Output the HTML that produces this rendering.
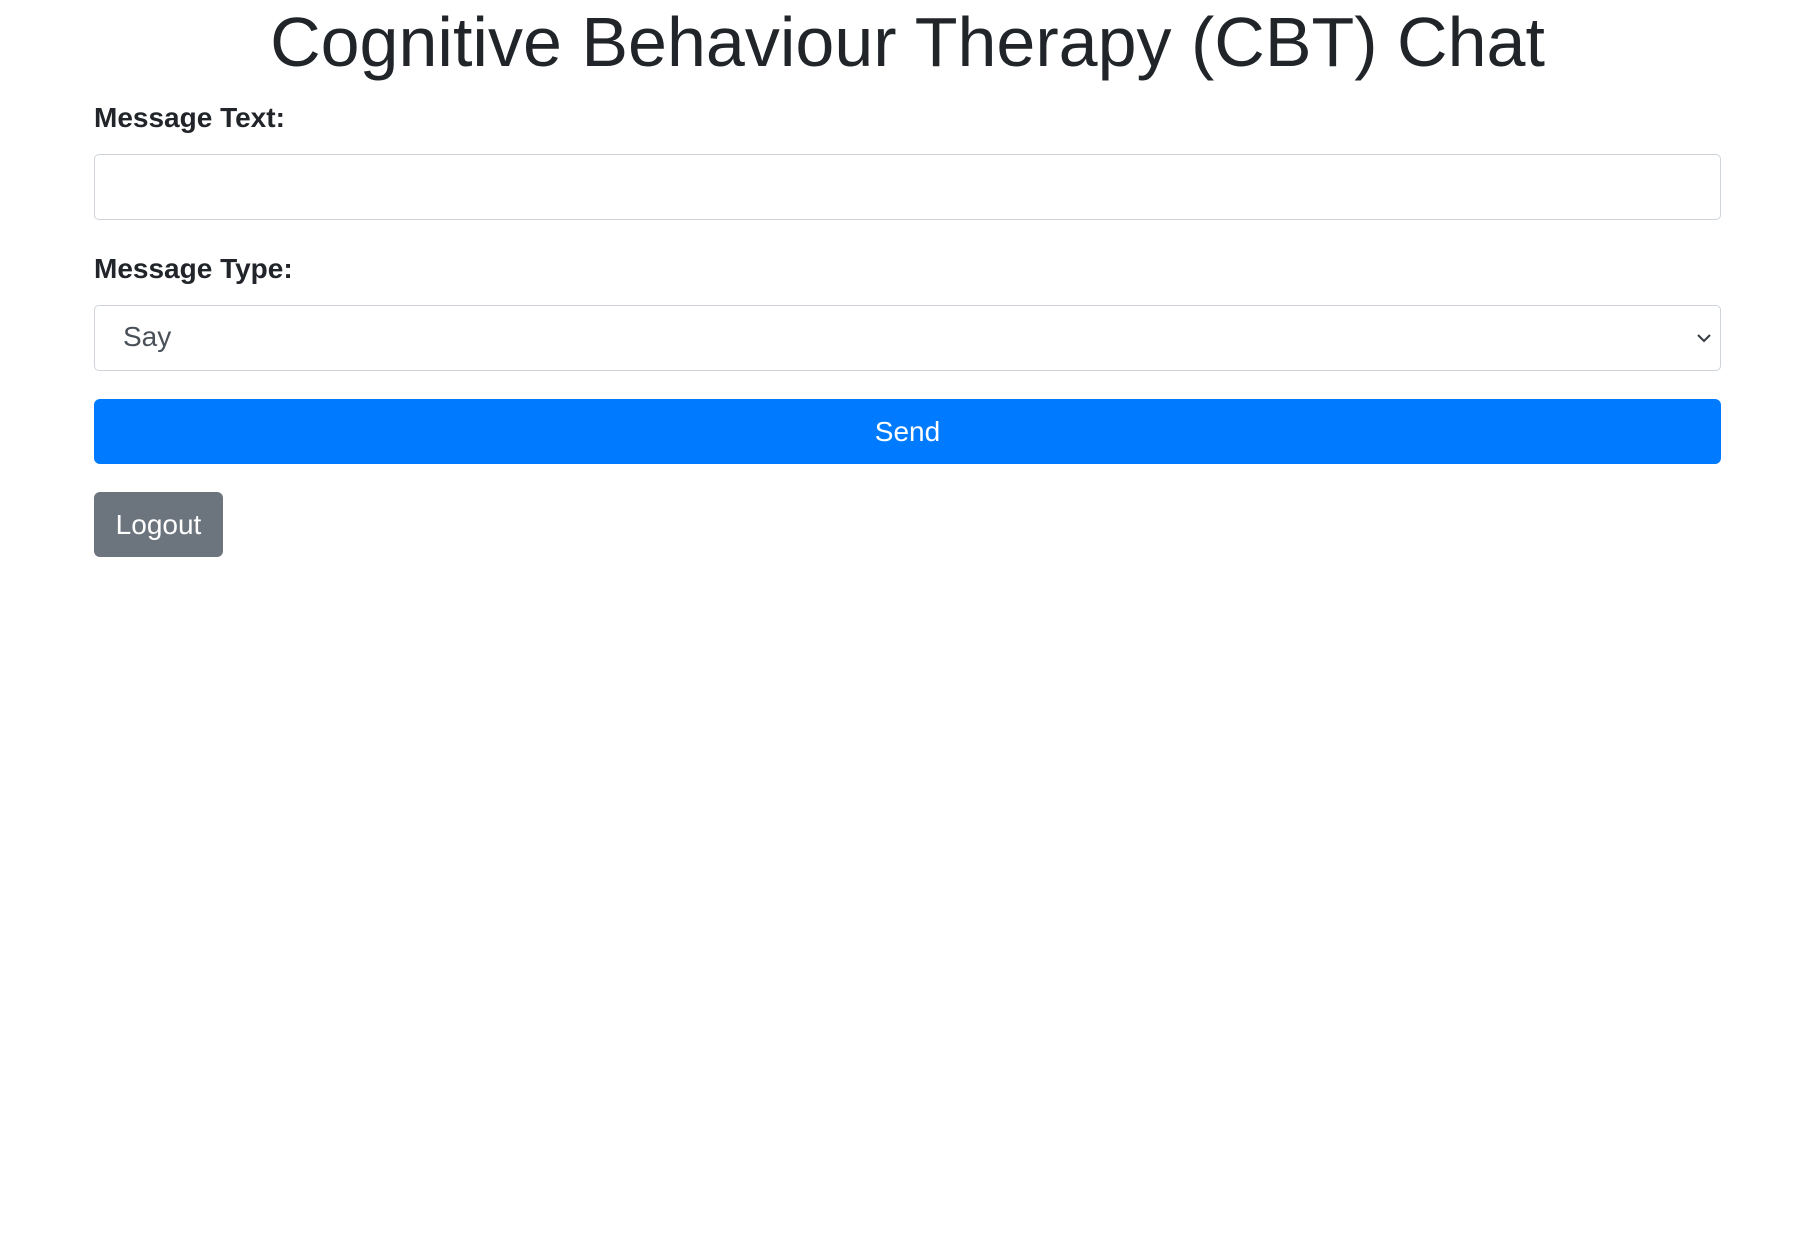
<!DOCTYPE html>
<html><head><meta charset="utf-8"><style>
body{margin:0;width:1815px;height:1243px;background:#fff;font-family:"Liberation Sans",Arial,sans-serif;color:#212529;position:relative;overflow:hidden}
.a{position:absolute}
h1{margin:0;position:absolute;left:0;width:1815px;text-align:center;top:0;font-size:70px;font-weight:400;line-height:84px}
label{font-weight:700;font-size:28px;line-height:30px;left:94px}
.box{left:94px;width:1625px;height:64px;border:1px solid #ced4da;border-radius:5px;background:#fff}
.btn{border-radius:6px;color:#fff;font-size:28px;text-align:center}
</style></head><body>
<h1>Cognitive Behaviour Therapy (CBT) Chat</h1>
<label class="a" style="top:103px">Message Text:</label>
<div class="a box" style="top:154px"></div>
<label class="a" style="top:254px">Message Type:</label>
<div class="a box" style="top:305px">
<span class="a" style="left:28px;top:16px;font-size:28px;line-height:30px;color:#495057">Say</span>
<svg class="a" style="right:8px;top:24px" width="16" height="16" viewBox="0 0 16 16"><path d="M2 5l6 6 6-6" fill="none" stroke="#343a40" stroke-width="2"/></svg>
</div>
<div class="a btn" style="left:94px;top:399px;width:1627px;height:65px;line-height:65px;background:#007bff">Send</div>
<div class="a btn" style="left:94px;top:492px;width:129px;height:65px;line-height:65px;background:#6c757d">Logout</div>
</body></html>
